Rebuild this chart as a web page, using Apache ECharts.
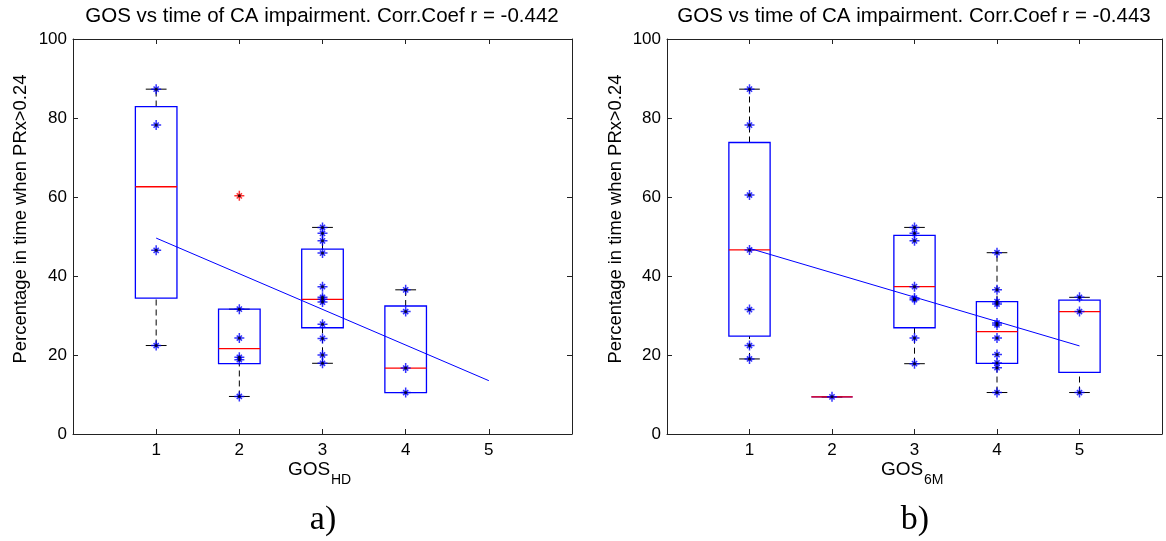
<!DOCTYPE html>
<html>
<head>
<meta charset="utf-8">
<script src="https://cdn.jsdelivr.net/npm/echarts@6/dist/echarts.min.js"></script>
<style>
  html, body { margin: 0; background: #fff; }
  #main { width: 1166px; height: 541px; }
</style>
</head>
<body>
<div id="main"></div>
<script>
// panel a) GOS at hospital discharge
const hdPos = [1, 2, 3, 4];
const hdMin = [22.4, 9.5, 17.9, 10.5];
const hdQ1 = [34.4, 17.8, 26.9, 10.5];
const hdMed = [62.6, 21.6, 34.1, 16.7];
const hdQ3 = [82.9, 31.6, 46.8, 32.4];
const hdMax = [87.3, 31.6, 52.3, 36.5];
const hdPoints = [
    [87.3, 78.2, 46.5, 22.4],
    [31.6, 24.3, 19.4, 18.8, 9.5],
    [52.3, 50.8, 48.9, 45.8, 37.3, 34.6, 34.1, 33.4, 27.8, 24.2, 20.0, 17.9],
    [36.5, 31.0, 16.7, 10.5]
];
const hdOutliers = [[2, 60.3]];
const hdFitX = [1, 5];
const hdFitY = [49.6, 13.5];

// panel b) GOS at 6 months
const m6Pos = [1, 2, 3, 4, 5];
const m6Min = [19.0, 9.4, 17.8, 10.5, 10.5];
const m6Q1 = [24.8, 9.4, 26.9, 17.9, 15.6];
const m6Med = [46.6, 9.4, 37.3, 25.9, 31.0];
const m6Q3 = [73.8, 9.4, 50.3, 33.5, 33.9];
const m6Max = [87.3, 9.4, 52.3, 45.9, 34.6];
const m6Points = [
    [87.3, 78.2, 60.5, 46.6, 31.5, 22.4, 19.0],
    [9.4],
    [52.3, 50.8, 48.9, 37.3, 34.4, 34.0, 24.3, 17.8],
    [45.9, 36.5, 33.5, 32.9, 28.1, 27.6, 24.3, 20.1, 18.0, 16.8, 10.5],
    [34.6, 31.0, 10.5]
];
const m6FitX = [1, 5];
const m6FitY = [47.0, 22.3];

const xTicks = ['', '1', '2', '3', '4', '5', ''];
const yTicks = [0, 20, 40, 60, 80, 100];

const fontSans = 'Liberation Sans';
const star = 'path://M5 0V10M0 5H10M2.4 2.4L7.6 7.6M7.6 2.4L2.4 7.6';

function boxData(pos, lo, q1, med, q3, hi) {
    return pos.map((x, i) => [x, lo[i], q1[i], med[i], q3[i], hi[i]]);
}

function pointData(groups) {
    const out = [];
    groups.forEach((vals, i) => {
        vals.forEach(v => out.push([i + 1, v]));
    });
    return out;
}

function renderBox(params, api) {
    const x = api.value(0);
    const lo = api.value(1), q1 = api.value(2), med = api.value(3), q3 = api.value(4), hi = api.value(5);
    const half = 0.25, cap = 0.125;
    const dash = { stroke: '#000', lineWidth: 1, lineDash: [6, 4] };
    const solid = { stroke: '#000', lineWidth: 1 };
    const seg = (a, b, style) => {
        const p1 = api.coord(a), p2 = api.coord(b);
        return { type: 'line', shape: { x1: p1[0], y1: p1[1], x2: p2[0], y2: p2[1] }, style: style };
    };
    const children = [];
    if (hi > q3) children.push(seg([x, q3], [x, hi], dash));
    if (lo < q1) children.push(seg([x, lo], [x, q1], dash));
    children.push(seg([x - cap, hi], [x + cap, hi], solid));
    children.push(seg([x - cap, lo], [x + cap, lo], solid));
    const tl = api.coord([x - half, q3]);
    const br = api.coord([x + half, q1]);
    children.push({
        type: 'rect',
        shape: { x: tl[0], y: tl[1], width: br[0] - tl[0], height: br[1] - tl[1] },
        style: { fill: 'none', stroke: '#0000ff', lineWidth: 1.3 }
    });
    children.push(seg([x - half, med], [x + half, med], { stroke: '#ff0000', lineWidth: 1.3 }));
    return { type: 'group', children: children };
}

function axesFor(grid) {
    const line = { show: true, onZero: false, lineStyle: { color: '#222', width: 1 } };
    const tick = { show: true, inside: true, length: 5, lineStyle: { color: '#222' } };
    return {
        x: [
            {
                gridIndex: grid, type: 'value', min: 0, max: 6, interval: 1, position: 'bottom',
                axisLine: line, axisTick: tick, splitLine: { show: false },
                axisLabel: { formatter: v => xTicks[v], fontFamily: fontSans, fontSize: 17, color: '#000', margin: 8 }
            },
            {
                gridIndex: grid, type: 'value', min: 0, max: 6, interval: 1, position: 'top',
                axisLine: line, axisTick: tick, splitLine: { show: false }, axisLabel: { show: false }
            }
        ],
        y: [
            {
                gridIndex: grid, type: 'value', min: 0, max: 100, interval: 20, position: 'left',
                axisLine: line, axisTick: tick, splitLine: { show: false },
                axisLabel: { formatter: v => (yTicks.includes(v) ? String(v) : ''), fontFamily: fontSans, fontSize: 17, color: '#000', margin: 6 }
            },
            {
                gridIndex: grid, type: 'value', min: 0, max: 100, interval: 20, position: 'right',
                axisLine: line, axisTick: tick, splitLine: { show: false }, axisLabel: { show: false }
            }
        ]
    };
}

const yLabel = 'Percentage in time when PRx>0.24';
const axA = axesFor(0);
const axB = axesFor(1);

function panelSeries(xi, yi, boxes, points, outliers, fitX, fitY) {
    const pts = pointData(points);
    const list = [
        {
            type: 'custom', xAxisIndex: xi, yAxisIndex: yi,
            renderItem: renderBox, data: boxes,
            encode: { x: 0, y: [1, 2, 3, 4, 5] }, silent: true
        },
        {
            type: 'line', xAxisIndex: xi, yAxisIndex: yi,
            data: fitX.map((x, i) => [x, fitY[i]]),
            symbol: 'none', lineStyle: { color: '#0000ff', width: 1 }, silent: true
        },
        {
            type: 'scatter', xAxisIndex: xi, yAxisIndex: yi, data: pts,
            symbol: star, symbolSize: 10,
            itemStyle: { color: 'rgba(0,0,0,0)', borderColor: '#0000ff', borderWidth: 1.5 }
        },
        {
            type: 'scatter', xAxisIndex: xi, yAxisIndex: yi, data: pts,
            symbol: 'circle', symbolSize: 3, itemStyle: { color: '#000' }
        }
    ];
    if (outliers.length) {
        list.push({
            type: 'scatter', xAxisIndex: xi, yAxisIndex: yi, data: outliers,
            symbol: star, symbolSize: 10,
            itemStyle: { color: 'rgba(0,0,0,0)', borderColor: '#ff0000', borderWidth: 1.5 }
        });
        list.push({
            type: 'scatter', xAxisIndex: xi, yAxisIndex: yi, data: outliers,
            symbol: 'circle', symbolSize: 3, itemStyle: { color: '#000' }
        });
    }
    return list;
}

const chart = echarts.init(document.getElementById('main'));

const titleStyle = { fontFamily: fontSans, fontSize: 20.5, fontWeight: 'normal', color: '#000' };
const labStyle = { fontFamily: fontSans, fontSize: 19, fontWeight: 'normal', color: '#000' };
const subStyle = { fontFamily: fontSans, fontSize: 14, fontWeight: 'normal', color: '#000' };
const panelStyle = { fontFamily: 'Liberation Serif', fontSize: 34, fontWeight: 'normal', color: '#000' };

const option = {
    animation: false,
    backgroundColor: '#fff',
    title: [
        { text: 'GOS vs time of CA impairment. Corr.Coef r = -0.442', left: 322, top: 6, textAlign: 'center', padding: 0, textStyle: titleStyle },
        { text: 'GOS vs time of CA impairment. Corr.Coef r = -0.443', left: 914, top: 6, textAlign: 'center', padding: 0, textStyle: titleStyle },
        { text: 'GOS', left: 288, top: 460, padding: 0, textStyle: labStyle },
        { text: 'HD', left: 331, top: 473, padding: 0, textStyle: subStyle },
        { text: 'GOS', left: 881, top: 460, padding: 0, textStyle: labStyle },
        { text: '6M', left: 924, top: 473, padding: 0, textStyle: subStyle },
        { text: 'a)', left: 323, top: 503, textAlign: 'center', padding: 0, textStyle: panelStyle },
        { text: 'b)', left: 915, top: 503, textAlign: 'center', padding: 0, textStyle: panelStyle }
    ],
    graphic: [
        { type: 'text', x: 21, y: 219, rotation: Math.PI / 2,
          style: { text: yLabel, font: '18.4px "Liberation Sans"', fill: '#000', align: 'center', verticalAlign: 'middle' } },
        { type: 'text', x: 616, y: 219, rotation: Math.PI / 2,
          style: { text: yLabel, font: '18.4px "Liberation Sans"', fill: '#000', align: 'center', verticalAlign: 'middle' } }
    ],
    grid: [
        { left: 73, top: 39, width: 499, height: 395, outerBoundsMode: 'none' },
        { left: 667, top: 39, width: 495, height: 395, outerBoundsMode: 'none' }
    ],
    xAxis: axA.x.concat(axB.x),
    yAxis: axA.y.concat(axB.y),
    series: panelSeries(0, 0, boxData(hdPos, hdMin, hdQ1, hdMed, hdQ3, hdMax), hdPoints, hdOutliers, hdFitX, hdFitY)
        .concat(panelSeries(2, 2, boxData(m6Pos, m6Min, m6Q1, m6Med, m6Q3, m6Max), m6Points, [], m6FitX, m6FitY))
};

chart.setOption(option);
</script>
</body>
</html>
